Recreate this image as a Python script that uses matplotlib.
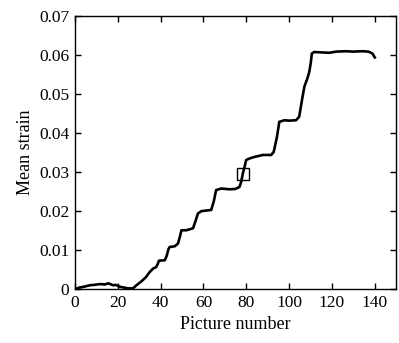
import matplotlib
matplotlib.use("Agg")
import matplotlib.pyplot as plt
from matplotlib.ticker import FuncFormatter

# Mean strain
picture = [0, 2, 4, 7, 9, 11.6, 14, 15.5, 17.8, 19, 21, 23, 24.8, 27.1,
           28.7, 31, 33, 34.9, 36.5, 37.8, 38.6, 39.2, 41.9, 42.8, 43.6,
           44.2, 46.6, 48.1, 49.0, 49.7, 52, 55.1, 56.3, 57.4, 59, 63.6,
           64.8, 65.9, 68.3, 72.2, 75, 76.8, 77.6, 78.4, 79.4, 79.9, 81.5,
           83.8, 87.7, 91.6, 92.8, 94.3, 95.4, 97.8, 100, 103.2, 104.7,
           106, 107.1, 108.5, 109.4, 110.1, 110.6, 111.7, 115, 118.7, 122,
           126.5, 130, 134.2, 137, 138.9, 140]
strain = [0, 0.0004, 0.0006, 0.001, 0.0011, 0.0013, 0.0012, 0.0015, 0.001,
          0.0011, 0.0006, 0.0004, 0.0002, 0.0002,
          0.001, 0.002, 0.003, 0.0044, 0.0053, 0.0056, 0.0064, 0.0073, 0.0074,
          0.0085, 0.0102, 0.0108, 0.011, 0.0117, 0.0135, 0.0151, 0.0151,
          0.0156, 0.0175, 0.0194, 0.02, 0.0203,
          0.0225, 0.0254, 0.0258, 0.0256, 0.0257, 0.0262, 0.0275, 0.0297,
          0.0318, 0.0331, 0.0335,
          0.0339, 0.0344, 0.0344, 0.0352, 0.039, 0.0429, 0.0433, 0.0432,
          0.0433, 0.0442,
          0.0485, 0.0519, 0.054, 0.0557, 0.058, 0.0604, 0.0608, 0.0607,
          0.0606, 0.0609,
          0.061, 0.0609, 0.061, 0.0609, 0.0604, 0.0594]

marker_x = [78.4]
marker_y = [0.0294]

plt.rcParams["font.family"] = "Liberation Serif"

fig = plt.figure(figsize=(3.99, 3.43), dpi=100)
ax = fig.add_axes([0.188, 0.157, 0.805, 0.796])

ax.plot(picture, strain, color="black", linewidth=1.9)
ax.plot(marker_x, marker_y, marker="s", markersize=8.5, markerfacecolor="none",
        markeredgecolor="black", markeredgewidth=1.0, linestyle="none")

ax.set_xlim(0, 150)
ax.set_ylim(0, 0.07)
ax.set_xticks(range(0, 141, 20))
ax.set_yticks([i / 100 for i in range(8)])
ax.yaxis.set_major_formatter(FuncFormatter(lambda v, p: "0" if v == 0 else f"{v:.2f}"))
ax.tick_params(direction="in", top=True, right=True, length=4, width=1,
               labelsize=12.5, pad=4)
for s in ax.spines.values():
    s.set_linewidth(1.0)

ax.set_xlabel("Picture number", fontsize=13)
ax.set_ylabel("Mean strain", fontsize=13)

fig.savefig("out.png", dpi=100)
